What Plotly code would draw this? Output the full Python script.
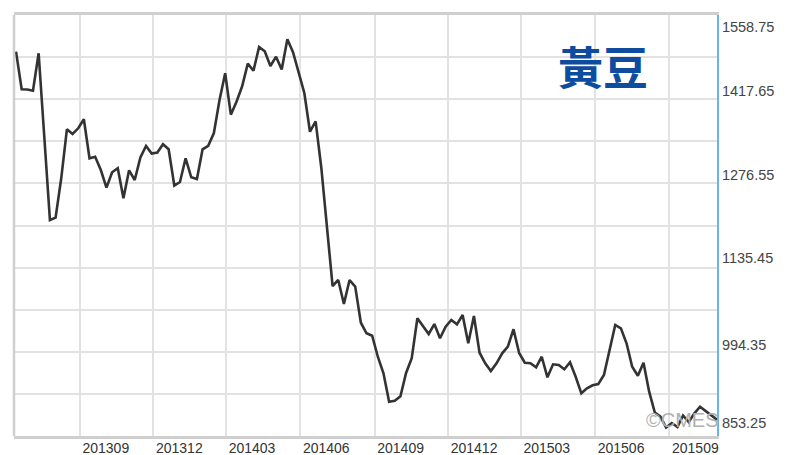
import pandas as pd
import plotly.graph_objects as go

# Weekly soybean prices
start_date = "2013-06-14"
prices = [
    1497.3, 1434.3, 1434.0, 1431.9, 1494.6, 1352.1, 1215.2, 1219.1, 1285.1, 1367.2,
    1359.3, 1368.9, 1384.0, 1318.6, 1321.3, 1299.0, 1269.4, 1295.2, 1301.9, 1251.6,
    1298.5, 1282.3, 1320.0, 1339.2, 1326.7, 1328.3, 1342.3, 1333.9, 1273.0, 1278.9,
    1318.6, 1286.8, 1283.9, 1333.7, 1339.6, 1361.0, 1416.3, 1461.1, 1391.7, 1413.5,
    1439.3, 1477.2, 1465.4, 1505.1, 1497.9, 1473.3, 1488.9, 1467.4, 1518.2, 1496.4,
    1463.8, 1428.0, 1363.2, 1380.6, 1303.2, 1200.1, 1104.6, 1114.7, 1074.5, 1114.7,
    1103.5, 1043.1, 1025.4, 1021.3, 986.1, 958.3, 910.7, 912.4, 919.8, 958.8,
    983.5, 1050.5, 1037.9, 1024.2, 1040.9, 1017.0, 1036.4, 1047.6, 1040.4, 1056.0,
    1008.6, 1054.3, 992.8, 975.1, 962.2, 975.1, 991.8, 1002.9, 1032.1, 992.3,
    976.1, 975.1, 968.4, 986.1, 951.6, 973.4, 972.2, 965.0, 976.8, 952.6,
    924.8, 933.2, 938.2, 940.4, 955.5, 998.2, 1039.3, 1033.7, 1008.6, 969.4,
    954.3, 976.1, 927.5, 892.6, 885.6, 867.5, 875.0, 868.3, 887.6, 876.7,
    891.3, 902.4, 895.1, 887.6, 880.6,
]
dates = pd.date_range(start_date, periods=len(prices), freq="7D")

x_tick_dates = ["2013-09-01", "2013-12-01", "2014-03-01", "2014-06-01", "2014-09-01",
                "2014-12-01", "2015-03-01", "2015-06-01", "2015-09-01"]
x_tick_text = ["201309", "201312", "201403", "201406", "201409",
               "201412", "201503", "201506", "201509"]

y_grid_vals = [853.25, 923.80, 994.35, 1064.90, 1135.45, 1206.00,
               1276.55, 1347.10, 1417.65, 1488.20, 1558.75]
y_label_vals = [853.25, 994.35, 1135.45, 1276.55, 1417.65, 1558.75]
y_label_text = ["853.25", "994.35", "1135.45", "1276.55", "1417.65", "1558.75"]

title_text = "黃豆"
watermark = "©CMES"

# ---- styling / layout (pixels) ----
Y_MIN, Y_MAX = 853.25, 1558.75
PLOT_H = 421
units_per_px = (Y_MAX - Y_MIN) / PLOT_H
label_shift_px = [13, 7, 10, 8, 8, -12]  # how far each label sits above its gridline
label_pos = [v + s * units_per_px for v, s in zip(y_label_vals, label_shift_px)]

fig = go.Figure()
fig.add_trace(go.Scatter(
    x=dates, y=prices, mode="lines",
    line=dict(color="#333333", width=2.6),
    hoverinfo="skip", showlegend=False,
))

# page body adds an 8px offset, so the figure is 780x447
fig.update_layout(
    width=780, height=447,
    margin=dict(l=6, r=71, t=7, b=19, autoexpand=False),
    paper_bgcolor="white", plot_bgcolor="white",
    font=dict(family="Liberation Sans, Arial, sans-serif", size=14, color="#444444"),
    xaxis=dict(
        type="date", automargin=False,
        range=["2013-06-11 12:00", "2015-10-30"],
        tickvals=x_tick_dates, ticktext=x_tick_text,
        ticklabelshift=26, ticklabelstandoff=-3, ticklabeloverflow="allow",
        showgrid=True, gridcolor="#e2e2e2", gridwidth=1.5,
        showline=True, linecolor="#cfcfcf", linewidth=2.5, mirror=True,
        ticks="", zeroline=False,
        tickfont=dict(size=14, color="#333333"),
    ),
    yaxis=dict(
        side="right", automargin=False,
        range=[Y_MIN, Y_MAX],
        tickvals=label_pos, ticktext=y_label_text,
        ticklabeloverflow="allow",
        showgrid=False,
        minor=dict(tickvals=y_grid_vals, showgrid=True, gridcolor="#e2e2e2",
                   gridwidth=1.5, ticks=""),
        showline=True, linecolor="#6ab4f0", linewidth=2,
        ticks="", zeroline=False,
        tickfont=dict(size=14.5, color="#444444"),
    ),
    shapes=[dict(type="line", xref="paper", yref="paper", x0=0, x1=0, y0=0, y1=1,
                 line=dict(color="#cfcfcf", width=2.5))],
    annotations=[
        dict(text=title_text, xref="paper", yref="paper", x=0.8385, y=0.88,
             xanchor="center", yanchor="middle", showarrow=False,
             font=dict(family="Noto Sans CJK TC", size=45, color="#0d4c9e", weight="bold")),
        dict(text=watermark, xref="paper", yref="paper", x=0.9516, y=0.038,
             xanchor="center", yanchor="middle", showarrow=False,
             font=dict(family="Liberation Sans, Arial", size=20, color="#b0b0b0")),
    ],
)

fig.write_html("out.html")
